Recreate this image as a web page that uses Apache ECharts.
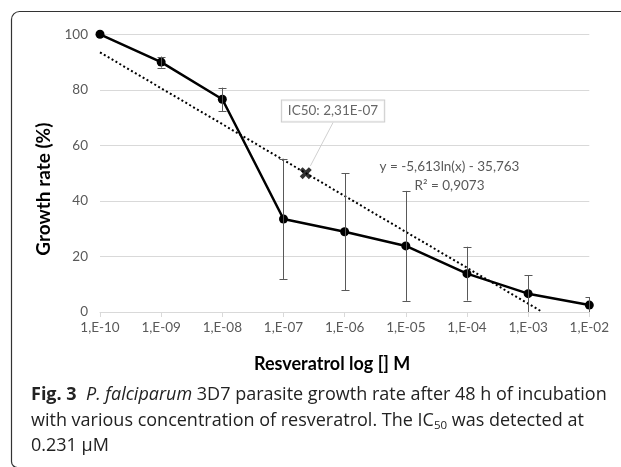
<!DOCTYPE html>
<html><head><meta charset="utf-8">
<script src="https://cdn.jsdelivr.net/npm/echarts@6/dist/echarts.min.js"></script>
<style>html,body{margin:0;padding:0;background:#fff}#c{width:621px;height:467px}</style>
</head><body><div id="c"></div>
<script>
// ---- data ----
const tickLabels = ['1,E-10','1,E-09','1,E-08','1,E-07','1,E-06','1,E-05','1,E-04','1,E-03','1,E-02'];
const concExp   = [-10, -9, -8, -7, -6, -5, -4, -3, -2];          // log10 of concentration (M)
const growth    = [100, 90.0, 76.6, 33.5, 28.9, 23.8, 13.8, 6.6, 2.5];
const errors    = [0, 2.0, 4.2, 21.6, 21.1, 19.8, 9.7, 6.6, 2.8];
const trendExp    = [-10, -2.767];
const trendGrowth = [93.5, 0];
const ic50Exp    = [-6.636];
const ic50Growth = [50];

const chart = echarts.init(document.getElementById('c'));
const FONT = 'Lato';
const GRAY = '#595959';

const lineData  = concExp.map((x, i) => [x, growth[i]]);
const errData   = concExp.map((x, i) => [x, growth[i] - errors[i], growth[i] + errors[i]]).filter((d, i) => errors[i] > 0);
const trendData = trendExp.map((x, i) => [x, trendGrowth[i]]);
const icData    = ic50Exp.map((x, i) => [x, ic50Growth[i]]);

const option = {
  animation: false,
  textStyle: { fontFamily: FONT },
  grid: { left: 100, right: 31.7, top: 34.3, bottom: 155 },
  xAxis: {
    type: 'value', min: -10, max: -2, interval: 1,
    axisLine: { lineStyle: { color: '#d9d9d9', width: 1 } },
    axisTick: { show: true, length: 5, lineStyle: { color: '#d9d9d9' } },
    splitLine: { show: false },
    axisLabel: { color: GRAY, fontSize: 13.5, fontFamily: FONT, margin: 9,
      formatter: v => tickLabels[concExp.indexOf(v)] || '' },
    name: 'Resveratrol log [] M', nameLocation: 'middle', nameGap: 43,
    nameTextStyle: { color: '#000', fontSize: 18, fontWeight: 'bold', fontFamily: FONT, padding: [0, 25, 0, 0] }
  },
  yAxis: {
    type: 'value', min: 0, max: 100, interval: 20,
    axisLine: { show: false }, axisTick: { show: false },
    splitLine: { lineStyle: { color: '#d9d9d9', width: 1 } },
    axisLabel: { color: GRAY, fontSize: 13.5, fontFamily: FONT, margin: 12 },
    name: 'Growth rate (%)', nameLocation: 'middle', nameGap: 44,
    nameTextStyle: { color: '#000', fontSize: 19, fontWeight: 'bold', fontFamily: FONT, padding: [0, 32, 0, 0] }
  },
  series: [
    { type: 'line', data: trendData, symbol: 'none', silent: true, z: 1,
      lineStyle: { color: '#000', width: 2, type: [2, 2.5] } },
    { type: 'line', data: lineData, symbol: 'circle', symbolSize: 9, z: 3,
      lineStyle: { color: '#000', width: 2.5 }, itemStyle: { color: '#000' } },
    { type: 'custom', data: errData, z: 4, clip: true,
      renderItem: (params, api) => {
        const x = api.value(0), lo = api.value(1), hi = api.value(2);
        const pLo = api.coord([x, Math.max(lo, 0)]), pHi = api.coord([x, hi]);
        const px = Math.round(pLo[0]) + 0.5, w = 4;
        const st = { stroke: GRAY, lineWidth: 1 };
        const children = [
          { type: 'line', shape: { x1: px, y1: pLo[1], x2: px, y2: pHi[1] }, style: st },
          { type: 'line', shape: { x1: px - w, y1: Math.round(pHi[1]) + 0.5, x2: px + w, y2: Math.round(pHi[1]) + 0.5 }, style: st }
        ];
        if (lo > 0) children.push({ type: 'line', shape: { x1: px - w, y1: Math.round(pLo[1]) + 0.5, x2: px + w, y2: Math.round(pLo[1]) + 0.5 }, style: st });
        return { type: 'group', children };
      } },
    { type: 'scatter', data: icData, z: 5,
      symbol: 'path://M0,2.4L2.4,0L5,2.6L7.6,0L10,2.4L7.4,5L10,7.6L7.6,10L5,7.4L2.4,10L0,7.6L2.6,5Z',
      symbolSize: 12, itemStyle: { color: '#000' },
      markLine: { silent: true, symbol: 'none', label: { show: false },
        lineStyle: { color: '#d0d0d0', width: 1, type: 'solid' },
        data: [[{ coord: [-6.56, 52.6] }, { coord: [-6.19, 68.2] }]] } },
    { type: 'scatter', data: [[-6.19, 72.4]], symbolSize: 0, z: 6, silent: true,
      label: { show: true, position: 'inside', formatter: 'IC50: 2,31E-07', color: '#404040',
        fontSize: 13.5, fontFamily: FONT, backgroundColor: '#fff', borderColor: '#bfbfbf', borderWidth: 1,
        padding: [4, 6, 3, 6] } }
  ],
  graphic: [
    { type: 'rect', silent: true, shape: { x: 11.5, y: 11.5, width: 700, height: 456, r: [8, 0, 0, 6] },
      style: { fill: 'none', stroke: '#333', lineWidth: 1.2 } },
    { type: 'text', x: 449.5, y: 176, silent: true,
      style: { text: 'y = -5,613ln(x) - 35,763\nR² = 0,9073', fill: GRAY, font: '13.5px ' + FONT,
        align: 'center', verticalAlign: 'middle', lineHeight: 18.6 } },
    { type: 'text', x: 31, y: 395, silent: true,
      style: { text: '{b|Fig. 3}  {i|P. falciparum} 3D7 parasite growth rate after 48 h of incubation',
        verticalAlign: 'middle', fill: '#222', font: '18px "Open Sans"',
        rich: { b: { fontWeight: 'bold', fontSize: 18, fontFamily: 'Open Sans', fill: '#222' },
                i: { fontStyle: 'italic', fontSize: 18, fontFamily: 'Open Sans', fill: '#222' } } } },
    { type: 'text', x: 31, y: 421, silent: true,
      style: { text: 'with various concentration of resveratrol. The IC{s|50} was detected at',
        verticalAlign: 'middle', fill: '#222', font: '18px "Open Sans"',
        rich: { s: { fontSize: 11.5, fontFamily: 'Open Sans', fill: '#222', padding: [9, 0, 0, 0] } } } },
    { type: 'text', x: 31, y: 446, silent: true,
      style: { text: '0.231 µM', verticalAlign: 'middle', fill: '#222', font: '18px "Open Sans"' } }
  ]
};
chart.setOption(option);
</script></body></html>
